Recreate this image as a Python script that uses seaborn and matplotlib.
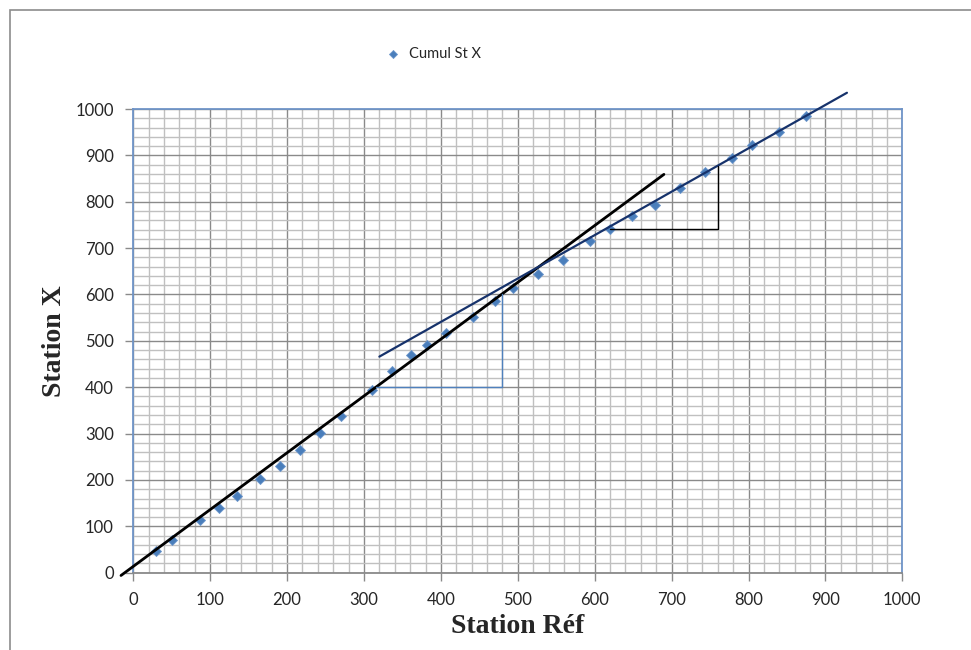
import pandas as pd
import matplotlib
matplotlib.use("Agg")
import matplotlib.pyplot as plt
import seaborn as sns
from matplotlib.patches import Rectangle
from matplotlib.ticker import MultipleLocator

sns.set_style("white")
plt.rcParams['font.family'] = ['Lato', 'DejaVu Sans']

# cumulated values
station_ref = [29, 50, 87, 112, 135, 165, 191, 217, 243, 270, 311, 336, 361, 382, 407,
               442, 470, 494, 526, 559, 594, 620, 649, 678, 711, 744, 779, 805, 840, 875]
station_x = [47, 71, 114, 140, 165, 201, 230, 265, 301, 338, 395, 436, 470, 490, 516,
             551, 587, 613, 644, 675, 715, 741, 769, 793, 830, 865, 894, 922, 950, 984]

# hand drawn lines (start / end points)
line1_x = [-16, 690]
line1_y = [-6, 859]
line2_x = [320, 928]
line2_y = [466, 1035]
tri1_x = [316, 479, 479]
tri1_y = [400, 400, 600]
tri2_x = [620, 760, 760]
tri2_y = [741, 741, 878]

df = pd.DataFrame({"Station Réf": station_ref, "Station X": station_x})

fig = plt.figure(figsize=(9.71, 6.5), dpi=100)
ax = fig.add_axes([133.3 / 971, 77.3 / 650, 769 / 971, 463.7 / 650])

# outer chart frame (cut off on the right and bottom)
fig.patches.append(Rectangle((10 / 971, -0.1), 1.2, (640 / 650) + 0.1, transform=fig.transFigure,
                             fill=False, edgecolor="#8c8c8c", linewidth=1.2))

ax.set_xlim(0, 1000)
ax.set_ylim(0, 1000)
ax.xaxis.set_major_locator(MultipleLocator(100))
ax.yaxis.set_major_locator(MultipleLocator(100))
ax.xaxis.set_minor_locator(MultipleLocator(20))
ax.yaxis.set_minor_locator(MultipleLocator(20))
ax.grid(which="minor", color="#c0c0c0", linewidth=1.0)
ax.grid(which="major", color="#8a8a8a", linewidth=1.0)
ax.set_axisbelow(True)

sns.scatterplot(data=df, x="Station Réf", y="Station X", marker="D", s=26,
                color="#4a7ebb", edgecolor="#6d97cc", linewidth=0.6, ax=ax,
                label="Cumul St X", zorder=3)

ax.plot(line1_x, line1_y, color="black", linewidth=2.0, clip_on=False, zorder=4)
ax.plot(line2_x, line2_y, color="#16326b", linewidth=1.6, clip_on=False, zorder=4)
ax.plot(tri1_x, tri1_y, color="#4f81bd", linewidth=1.0, zorder=4)
ax.plot(tri2_x, tri2_y, color="black", linewidth=1.0, zorder=4)

for side in ["top", "right", "left"]:
    ax.spines[side].set_color("#6f94c8")
    ax.spines[side].set_linewidth(1.3)
ax.spines["bottom"].set_color("#8a8a8a")
ax.spines["bottom"].set_linewidth(1.3)

ax.tick_params(axis="both", which="major", direction="out", length=6, width=1.0,
               color="#8a8a8a", labelsize=12, pad=8, bottom=True, left=True)
ax.tick_params(axis="both", which="minor", length=0)

ax.set_xlabel("Station Réf", fontsize=20, fontweight="bold", family="Liberation Serif", labelpad=4)
ax.set_ylabel("Station X", fontsize=20, fontweight="bold", family="Liberation Serif", labelpad=6)

ax.legend(loc="lower center", bbox_to_anchor=(0.385, 1.075), frameon=False, fontsize=10.5,
          handletextpad=0.1, markerscale=0.8)

fig.savefig("out.png", dpi=100)
